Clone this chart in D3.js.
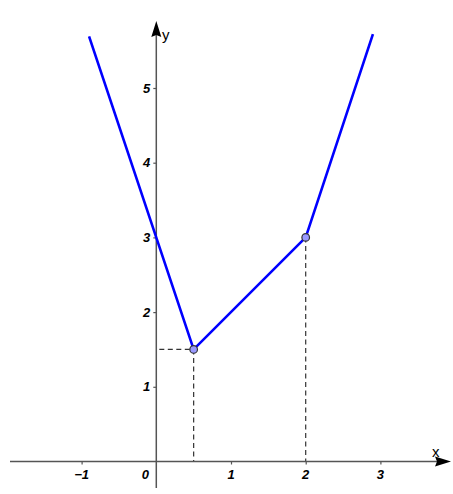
<!DOCTYPE html>
<html>
<head>
<meta charset="utf-8">
<script src="https://cdn.jsdelivr.net/npm/d3@7"></script>
<style>
  body { margin: 0; background: #fff; }
  svg { display: block; }
</style>
</head>
<body>
<div id="chart"></div>
<script>
const width = 453, height = 494;

// values
const xTicks = [-1, 0, 1, 2, 3];
const yTicks = [1, 2, 3, 4, 5];
const graphX = [-0.9, 0.5, 2, 2.9];
const graphY = [5.69, 1.5, 3, 5.72];
const pointX = [0.5, 2];
const pointY = [1.5, 3];

const svg = d3.select("#chart").append("svg")
    .attr("width", width)
    .attr("height", height);

const x = d3.scaleLinear().domain([-1, 3]).range([81.6, 380.4]);
const y = d3.scaleLinear().domain([0, 5]).range([461.5, 88]);

const axisColor = "#555";

// dashed helper lines
const dash = svg.append("g")
    .attr("stroke", "#333")
    .attr("stroke-width", 1.2)
    .attr("stroke-dasharray", "5,3.5")
    .attr("fill", "none");
pointX.forEach((px, i) => {
    dash.append("line")
        .attr("x1", x(px)).attr("y1", y(pointY[i]))
        .attr("x2", x(px)).attr("y2", y(0));
});
dash.append("line")
    .attr("x1", x(0) + 3).attr("y1", y(pointY[0]))
    .attr("x2", x(pointX[0])).attr("y2", y(pointY[0]));

// axes lines with arrows
svg.append("line")
    .attr("x1", 10).attr("y1", y(0))
    .attr("x2", 440).attr("y2", y(0))
    .attr("stroke", axisColor).attr("stroke-width", 1.5);
svg.append("path")
    .attr("d", `M451,${y(0)} L435,${y(0) - 5} L437,${y(0)} L435,${y(0) + 5} Z`)
    .attr("fill", "#000");

svg.append("line")
    .attr("x1", x(0)).attr("y1", 488)
    .attr("x2", x(0)).attr("y2", 32)
    .attr("stroke", axisColor).attr("stroke-width", 1.5);
svg.append("path")
    .attr("d", `M${x(0)},21 L${x(0) - 5},37 L${x(0)},35 L${x(0) + 5},37 Z`)
    .attr("fill", "#000");

// ticks
const xAxis = svg.append("g")
    .attr("transform", `translate(0,${y(0)})`)
    .call(d3.axisBottom(x).tickValues(xTicks.filter(d => d !== 0)).tickSize(3).tickFormat(""));
xAxis.select(".domain").remove();
xAxis.selectAll("line").attr("stroke", axisColor).attr("stroke-width", 1.2);

const yAxis = svg.append("g")
    .attr("transform", `translate(${x(0)},0)`)
    .call(d3.axisLeft(y).tickValues(yTicks).tickSize(3).tickFormat(""));
yAxis.select(".domain").remove();
yAxis.selectAll("line").attr("stroke", axisColor).attr("stroke-width", 1.2);

const fmt = d => d < 0 ? "\u2212" + Math.abs(d) : String(d);

svg.append("g").selectAll("text")
    .data(xTicks)
    .join("text")
    .attr("x", d => d === 0 ? x(0) - 11 : x(d))
    .attr("y", y(0) + 17)
    .attr("text-anchor", "middle")
    .attr("font-family", "Liberation Sans, Arial, sans-serif")
    .attr("font-size", "13px")
    .attr("font-weight", "bold")
    .attr("font-style", "italic")
    .text(fmt);

svg.append("g").selectAll("text")
    .data(yTicks)
    .join("text")
    .attr("x", x(0) - 6)
    .attr("y", d => y(d))
    .attr("dy", "0.36em")
    .attr("text-anchor", "end")
    .attr("font-family", "Liberation Sans, Arial, sans-serif")
    .attr("font-size", "13px")
    .attr("font-weight", "bold")
    .attr("font-style", "italic")
    .text(fmt);

svg.append("text")
    .attr("x", 432).attr("y", 457)
    .attr("font-family", "Liberation Sans, Arial, sans-serif")
    .attr("font-size", "15px")
    .text("x");
svg.append("text")
    .attr("x", 162).attr("y", 40)
    .attr("font-family", "Liberation Sans, Arial, sans-serif")
    .attr("font-size", "15px")
    .text("y");

// the graph
const line = d3.line()
    .x((d, i) => x(graphX[i]))
    .y((d, i) => y(graphY[i]));
svg.append("path")
    .attr("d", line(graphX))
    .attr("fill", "none")
    .attr("stroke", "#0000ff")
    .attr("stroke-width", 2.6)
    .attr("stroke-linejoin", "round");

svg.append("g").selectAll("circle")
    .data(pointX)
    .join("circle")
    .attr("cx", d => x(d))
    .attr("cy", (d, i) => y(pointY[i]))
    .attr("r", 3.8)
    .attr("fill", "#9999ff")
    .attr("stroke", "#333")
    .attr("stroke-width", 1.2);
</script>
</body>
</html>
